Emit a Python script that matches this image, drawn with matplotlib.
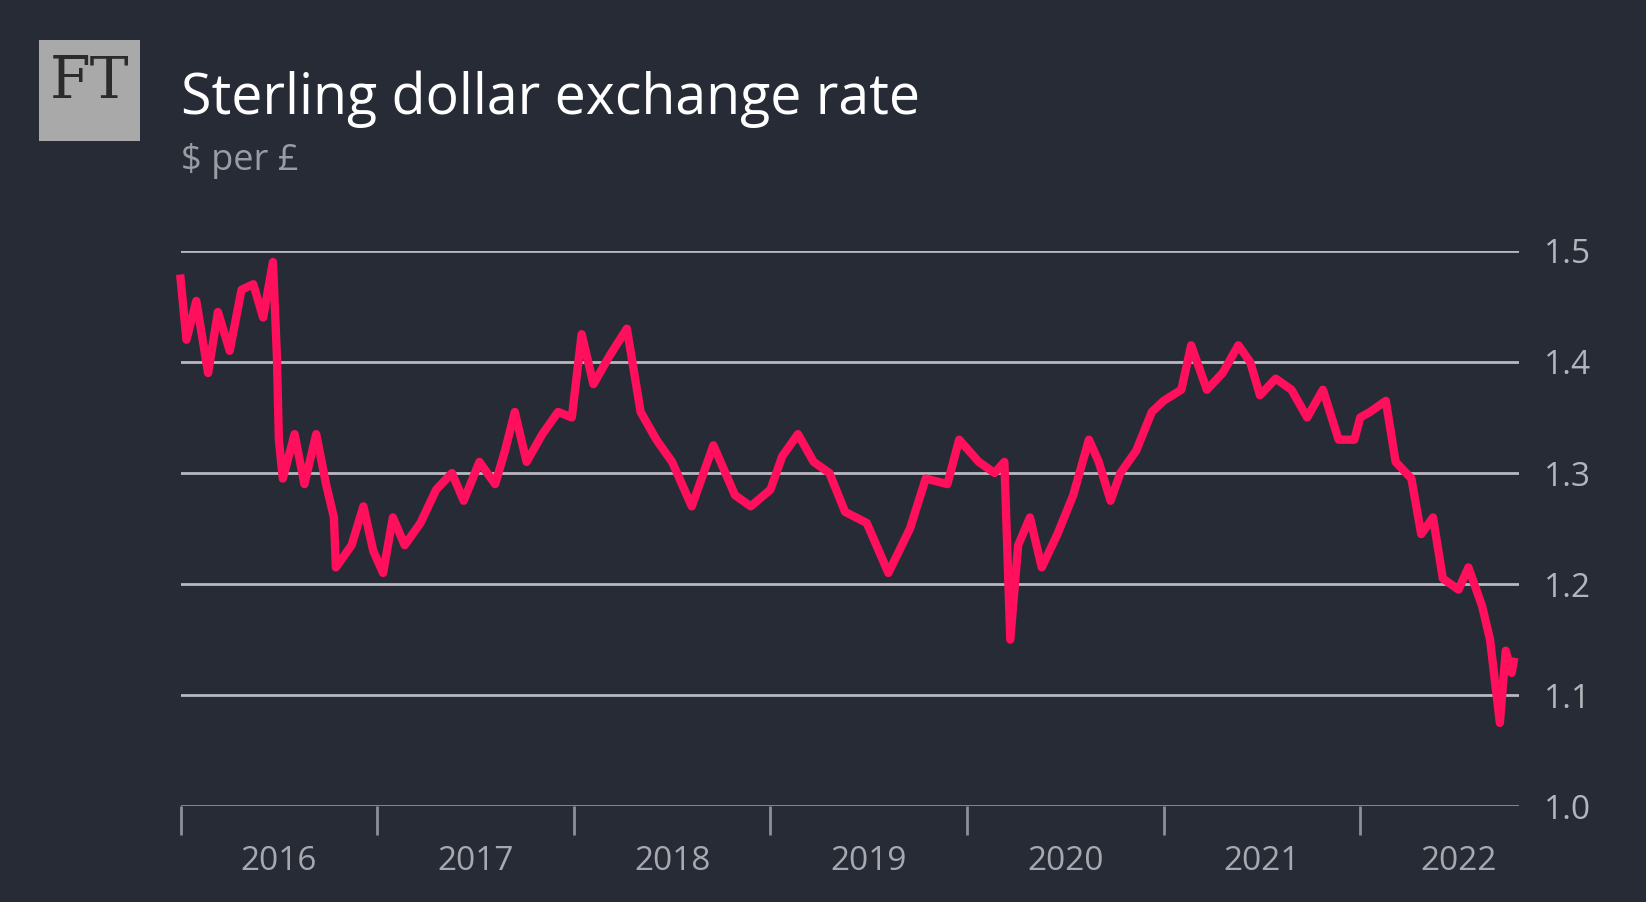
import matplotlib
matplotlib.use("Agg")
import matplotlib.pyplot as plt
from matplotlib.patches import Rectangle

# decimal year, $ per £
dates = [2016.00,2016.03,2016.08,2016.14,2016.19,2016.25,2016.31,2016.37,2016.42,2016.47,2016.49,2016.50,2016.52,2016.58,2016.63,2016.69,2016.74,2016.78,2016.79,2016.87,2016.93,2016.98,
         2017.03,2017.08,2017.14,2017.22,2017.30,2017.38,2017.44,2017.52,2017.60,2017.65,2017.70,2017.76,2017.84,2017.92,2017.99,
         2018.04,2018.10,2018.18,2018.27,2018.34,2018.42,2018.50,2018.60,2018.71,2018.82,2018.90,2019.00,
         2019.06,2019.14,2019.22,2019.30,2019.38,2019.49,2019.60,2019.71,2019.79,2019.90,2019.96,2020.06,
         2020.14,2020.19,2020.22,2020.26,2020.32,2020.38,2020.46,2020.54,2020.62,2020.67,2020.73,2020.78,2020.86,2020.94,2021.00,
         2021.09,2021.14,2021.22,2021.30,2021.38,2021.44,2021.49,2021.57,2021.65,2021.73,2021.81,2021.89,2021.97,2022.00,
         2022.05,2022.13,2022.18,2022.26,2022.31,2022.37,2022.42,2022.50,2022.55,2022.62,2022.66,2022.71,2022.74,2022.77,2022.78]
rates = [1.475,1.420,1.455,1.390,1.445,1.410,1.465,1.470,1.440,1.490,1.405,1.330,1.295,1.335,1.290,1.335,1.290,1.260,1.215,1.235,1.270,1.230,
         1.210,1.260,1.235,1.255,1.285,1.300,1.275,1.310,1.290,1.320,1.355,1.310,1.335,1.355,1.350,
         1.425,1.380,1.405,1.430,1.355,1.330,1.310,1.270,1.325,1.280,1.270,1.285,
         1.315,1.335,1.310,1.300,1.265,1.255,1.210,1.250,1.295,1.290,1.330,1.310,
         1.300,1.310,1.150,1.235,1.260,1.215,1.245,1.280,1.330,1.310,1.275,1.300,1.320,1.355,1.365,
         1.375,1.415,1.375,1.390,1.415,1.400,1.370,1.385,1.375,1.350,1.375,1.330,1.330,1.350,
         1.355,1.365,1.310,1.295,1.245,1.260,1.205,1.195,1.215,1.180,1.150,1.075,1.140,1.120,1.130]
years = [2016, 2017, 2018, 2019, 2020, 2021, 2022]
yticks = [1.0, 1.1, 1.2, 1.3, 1.4, 1.5]

BG = "#272b36"
W, H = 1646, 902
S = 1646 / 1568  # reference measured in 1568-wide display units
def px(v):
    return v * S

fig = plt.figure(figsize=(W/100, H/100), dpi=100, facecolor=BG)
ax = fig.add_axes([px(172)/W, 1-px(768)/H, px(1447-172)/W, px(768-239)/H])
ax.set_facecolor(BG)
ax.set_xlim(2016, 2016 + (1447-172)/187.3)
ax.set_ylim(1.0, 1.5)
for s in ax.spines.values():
    s.set_visible(False)
for v in yticks[1:]:
    ax.axhline(v, color="#b8b9c0", lw=2, zorder=1)
ax.axhline(1.0, color="#8e9098", lw=2, zorder=1)
ax.set_yticks(yticks)
ax.set_yticklabels([f"{v:.1f}" for v in yticks])
ax.yaxis.tick_right()
ax.tick_params(axis="y", length=0, pad=18, labelsize=24, labelcolor="#b4b5bc")
ax.set_xticks(years)
ax.set_xticklabels([])
ax.tick_params(axis="x", length=21, width=2, color="#8e9098", direction="out")
for y in years:
    ax.text(y + 0.5, 1.0 - 0.05, str(y), ha="center", va="center", fontsize=24,
            color="#a8a9b0", family="Open Sans")
for t in ax.get_yticklabels():
    t.set_family("Open Sans")
ax.plot(dates, rates, color="#ff0f5c", lw=6, zorder=3, clip_on=False, solid_joinstyle="round")

fig.patches.append(Rectangle((px(37)/W, 1-px(134)/H), px(96)/W, px(96)/H, transform=fig.transFigure,
                             facecolor="#a9a9a9", edgecolor="none"))
fig.text(px(85)/W, 1-px(78)/H, "FT", ha="center", va="center", fontsize=42, color="#2b2b2b",
         family="DejaVu Serif")
fig.text(px(172)/W, 1-px(95)/H, "Sterling dollar exchange rate", ha="left", va="center",
         fontsize=40, color="white", family="Open Sans")
fig.text(px(172)/W, 1-px(153)/H, "$ per £", ha="left", va="center", fontsize=26,
         color="#9a9ba3", family="Open Sans")
fig.savefig("out.png", dpi=100, facecolor=BG)
